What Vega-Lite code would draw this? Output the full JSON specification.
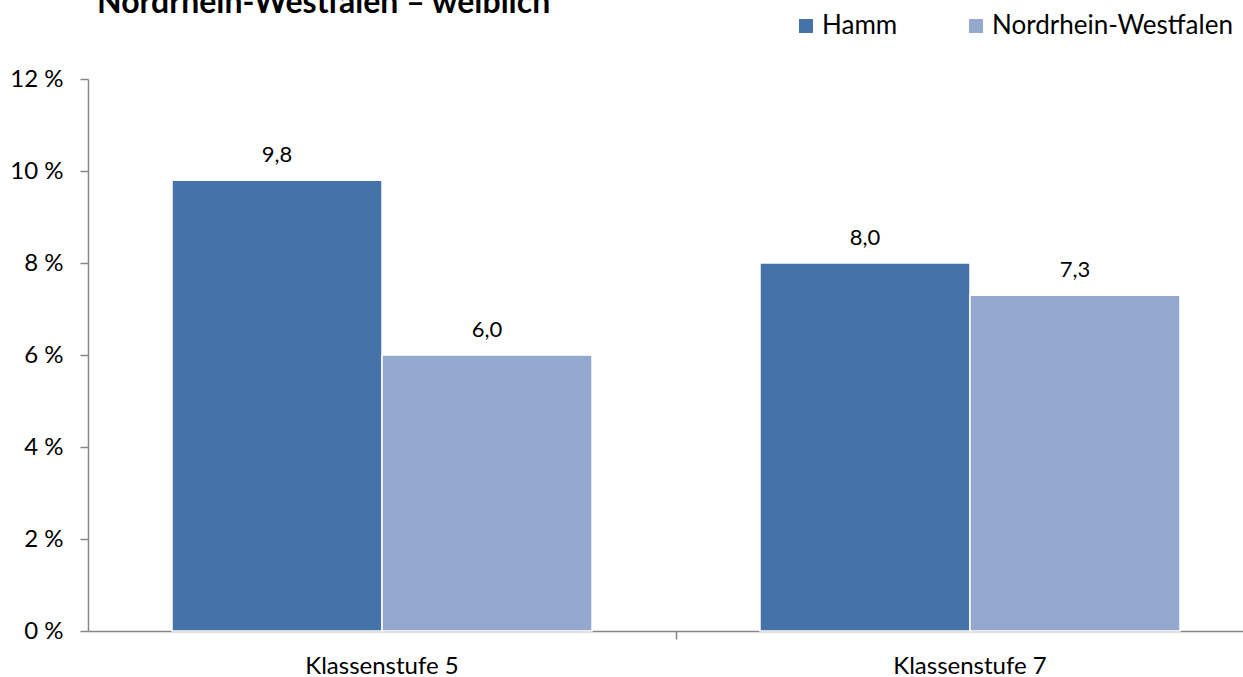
{
  "$schema": "https://vega.github.io/schema/vega-lite/v6.json",
  "width": 1176,
  "height": 552,
  "autosize": {"type": "none"},
  "padding": {"left": 88, "top": 79, "right": -21, "bottom": 46},
  "config": {
    "locale": {"number": {"decimal": ",", "thousands": ".", "grouping": [3], "currency": ["", " €"]}},
    "view": {"stroke": null},
    "font": "Lato",
    "legend": {"padding": 0}
  },
  "title": {
    "text": "Nordrhein-Westfalen – weiblich",
    "anchor": "start",
    "frame": "group",
    "font": "Lato",
    "fontSize": 32,
    "fontWeight": "bold",
    "color": "#000000",
    "baseline": "alphabetic",
    "offset": 0,
    "dy": 32,
    "dx": 9
  },
  "data": {
    "values": [
      {"Klasse": "Klassenstufe 5", "Region": "Hamm", "Anteil": 9.8},
      {"Klasse": "Klassenstufe 5", "Region": "Nordrhein-Westfalen", "Anteil": 6.0},
      {"Klasse": "Klassenstufe 7", "Region": "Hamm", "Anteil": 8.0},
      {"Klasse": "Klassenstufe 7", "Region": "Nordrhein-Westfalen", "Anteil": 7.3}
    ]
  },
  "encoding": {
    "x": {
      "field": "Klasse",
      "type": "nominal",
      "scale": {"paddingInner": 0.2857, "paddingOuter": 0.1429},
      "axis": {
        "title": null,
        "labelAngle": 0,
        "bandPosition": 1.2,
        "tickSize": 8,
        "tickWidth": 1.5,
        "domainWidth": 1.5,
        "domainColor": "#868686",
        "tickColor": "#868686",
        "labelFontSize": 24,
        "labelColor": "#000000",
        "labelPadding": 15
      }
    },
    "xOffset": {"field": "Region", "type": "nominal", "scale": {"paddingInner": 0, "paddingOuter": 0}},
    "y": {
      "field": "Anteil",
      "type": "quantitative",
      "scale": {"domain": [0, 12], "nice": false},
      "axis": {
        "title": null,
        "values": [0, 2, 4, 6, 8, 10, 12],
        "labelExpr": "datum.value + ' %'",
        "grid": false,
        "tickSize": 8,
        "tickWidth": 1.5,
        "domainWidth": 1.5,
        "domainColor": "#868686",
        "tickColor": "#868686",
        "labelFontSize": 24,
        "labelColor": "#000000",
        "labelPadding": 17
      }
    }
  },
  "layer": [
    {
      "mark": {"type": "bar", "stroke": "#ffffff", "strokeWidth": 1.5},
      "encoding": {
        "color": {
          "field": "Region",
          "type": "nominal",
          "scale": {"domain": ["Hamm", "Nordrhein-Westfalen"], "range": ["#4673A7", "#95A9D0"]},
          "legend": {
            "title": null,
            "orient": "none",
            "direction": "horizontal",
            "legendX": 705,
            "legendY": -66,
            "symbolType": "square",
            "symbolSize": 196,
            "symbolStrokeWidth": 0,
            "labelFontSize": 26,
            "labelLimit": 0,
            "labelColor": "#000000",
            "labelOffset": 3,
            "columnPadding": 65
          }
        }
      }
    },
    {
      "mark": {"type": "text", "baseline": "alphabetic", "dy": -18, "fontSize": 22, "color": "#000000"},
      "encoding": {
        "text": {"field": "Anteil", "type": "quantitative", "format": ".1f"}
      }
    }
  ]
}
